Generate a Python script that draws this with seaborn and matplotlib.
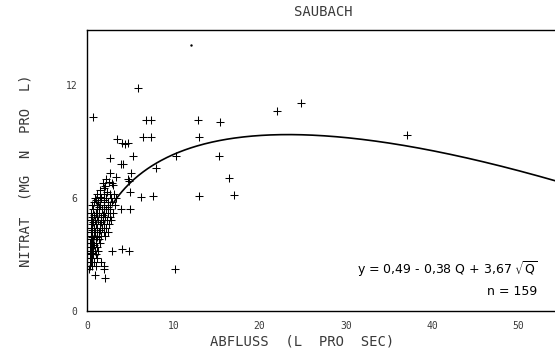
import numpy as np
import pandas as pd
import matplotlib
matplotlib.use("Agg")
import matplotlib.pyplot as plt
import seaborn as sns

# ---- data ----
abfluss = [
    12.0, 5.85, 0.7, 6.8, 7.4, 12.9, 15.4, 22.0, 24.8, 37.1,
    6.5, 7.4, 13.0, 10.3, 15.3, 8.0, 16.5, 6.2, 7.6, 13.0,
    17.0, 10.2, 3.5, 4.1, 4.7, 4.4, 2.7, 5.3, 3.9, 4.2,
    2.7, 5.1, 3.4, 4.7, 4.9, 2.5, 2.9, 3.0, 1.9, 2.3,
    5.0, 1.5, 3.9, 5.0, 2.9, 4.1, 4.8, 1.9, 0.9, 2.1,
    0.2,
    1.2, 2.0, 2.6, 3.1,
    0.9, 1.6, 2.2, 2.8, 3.3,
    0.8, 1.3, 1.9, 2.4, 2.9,
    0.6, 1.1, 1.5, 2.0, 2.6, 3.2,
    0.7, 1.2, 1.7, 2.2, 2.7,
    0.5, 1.0, 1.4, 1.9, 2.4, 3.0,
    0.6, 1.1, 1.6, 2.1, 2.6,
    0.4, 0.9, 1.3, 1.8, 2.3, 2.8,
    0.6, 1.0, 1.5, 2.0, 2.5,
    0.5, 0.8, 1.2, 1.7, 2.2,
    0.4, 0.9, 1.4, 1.9, 2.4,
    0.5, 0.8, 1.2, 1.6, 2.1,
    0.4, 0.7, 1.0, 1.4,
    0.3, 0.6, 1.0, 1.5,
    0.4, 0.7, 1.1,
    0.3, 0.6, 0.9, 1.3,
    0.4, 0.7, 1.0,
    0.3, 0.6, 1.2,
    0.4, 0.8, 1.6,
    0.3, 0.6, 1.0, 2.0,
    1.5, 2.1, 1.8, 2.2,
    1.0, 2.0, 1.4, 2.4, 0.8, 1.8, 0.7, 1.6, 0.6, 1.5, 0.6, 1.2, 0.8, 0.5,
]
nitrat = [
    14.1, 11.8, 10.3, 10.1, 10.1, 10.1, 10.0, 10.6, 11.0, 9.35,
    9.25, 9.25, 9.2, 8.2, 8.2, 7.6, 7.05, 6.05, 6.1, 6.1,
    6.15, 2.2, 9.1, 8.9, 8.9, 8.85, 8.1, 8.2, 7.8, 7.8,
    7.3, 7.3, 7.1, 7.0, 6.9, 6.85, 6.8, 6.7, 6.5, 6.3,
    6.3, 6.05, 5.4, 5.4, 3.2, 3.3, 3.2, 2.2, 1.9, 1.75,
    2.2,
    6.2, 6.2, 6.2, 6.2,
    6.0, 6.0, 6.0, 6.0, 6.0,
    5.8, 5.8, 5.8, 5.8, 5.8,
    5.6, 5.6, 5.6, 5.6, 5.6, 5.6,
    5.4, 5.4, 5.4, 5.4, 5.4,
    5.2, 5.2, 5.2, 5.2, 5.2, 5.2,
    5.0, 5.0, 5.0, 5.0, 5.0,
    4.8, 4.8, 4.8, 4.8, 4.8, 4.8,
    4.6, 4.6, 4.6, 4.6, 4.6,
    4.4, 4.4, 4.4, 4.4, 4.4,
    4.2, 4.2, 4.2, 4.2, 4.2,
    4.0, 4.0, 4.0, 4.0, 4.0,
    3.8, 3.8, 3.8, 3.8,
    3.6, 3.6, 3.6, 3.6,
    3.4, 3.4, 3.4,
    3.2, 3.2, 3.2, 3.2,
    3.0, 3.0, 3.0,
    2.8, 2.8, 2.8,
    2.6, 2.6, 2.6,
    2.4, 2.4, 2.4, 2.4,
    6.4, 6.6, 6.8, 7.0,
    5.9, 5.9, 5.5, 5.5, 5.1, 5.1, 4.7, 4.7, 4.3, 4.3, 3.9, 3.9, 3.5, 3.1,
]
# the first point is printed as a small dot, all others as '+'
dot_count = 1
# fitted curve y = a + b*Q + c*sqrt(Q) as printed on the chart
coef_a, coef_b, coef_c = 0.49, -0.38, 3.67
curve_q_start, curve_q_end = 3.0, 55.0

x_ticks = [0, 10, 20, 30, 40, 50]
x_minor = [5, 15, 25, 35, 45]
y_ticks = [0, 3, 6, 9, 12]
y_ticklabels = ["0", "", "6", "", "12"]

df = pd.DataFrame({"Q": abfluss, "N": nitrat})
qc = np.linspace(curve_q_start, curve_q_end, 300)
curve = pd.DataFrame({"Q": qc, "N": coef_a + coef_b * qc + coef_c * np.sqrt(qc)})

sns.set_style("white")
plt.rcParams["font.family"] = ["DejaVu Sans"]
txt = "#3a3a3a"
mono = ["DejaVu Sans Mono"]

fig = plt.figure(figsize=(5.55, 3.52), dpi=100)
ax = fig.add_axes([0.157, 0.1165, 0.85, 0.7985])

sns.scatterplot(data=df.iloc[dot_count:], x="Q", y="N", marker="+", color="black",
                s=32, linewidth=0.75, ax=ax, legend=False)
sns.scatterplot(data=df.iloc[:dot_count], x="Q", y="N", marker="o", color="black",
                s=3, linewidth=0, ax=ax, legend=False)
sns.lineplot(data=curve, x="Q", y="N", color="black", linewidth=1.2, ax=ax)

ax.set_xlim(0, 54.7)
ax.set_ylim(0, 14.9)
ax.set_xticks(x_ticks)
ax.set_xticks(x_minor, minor=True)
ax.set_yticks(y_ticks)
ax.set_yticklabels(y_ticklabels)
ax.tick_params(axis="both", which="major", direction="inout", length=6, width=0.8,
               labelsize=7, colors="black", labelcolor=txt, pad=4)
ax.tick_params(axis="x", which="minor", direction="inout", length=4, width=0.6)
for lab in ax.get_xticklabels() + ax.get_yticklabels():
    lab.set_family(mono)
for s in ["left", "bottom", "top"]:
    ax.spines[s].set_color("black")
    ax.spines[s].set_linewidth(1.0)
ax.spines["right"].set_visible(False)

ax.set_xlabel("ABFLUSS  (L  PRO  SEC)", fontsize=10, color=txt, family=mono)
ax.xaxis.set_label_coords(0.455, -0.085)
ax.set_ylabel("NITRAT  (MG  N  PRO  L)", fontsize=10, color=txt, labelpad=24, family=mono)
ax.set_title("SAUBACH", fontsize=10, color=txt, pad=10, family=mono)

ax.text(0.955, 0.148, r"y = 0,49 - 0,38 Q + 3,67 $\sqrt{\mathrm{Q}}$", transform=ax.transAxes,
        ha="right", va="center", fontsize=9, color="black")
ax.text(0.955, 0.068, "n = 159", transform=ax.transAxes,
        ha="right", va="center", fontsize=9, color="black")

fig.savefig("out.png", dpi=100)
